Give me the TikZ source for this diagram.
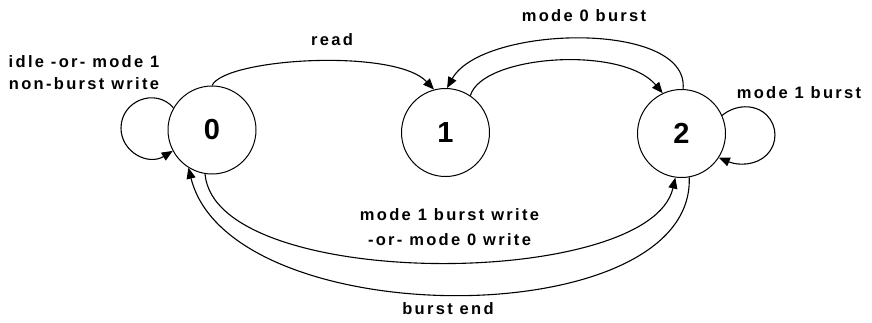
\documentclass[tikz,border=0pt]{standalone}
\usepackage{fontspec}
\newfontfamily\lblfont[LetterSpace=14]{Liberation Sans}
\newfontfamily\statefont{Liberation Sans}
\usetikzlibrary{arrows.meta}
\begin{document}
\begin{tikzpicture}[x=1pt,y=-1pt,
  state/.style={circle,draw,line width=1pt,minimum size=88pt,inner sep=0pt,
    font={\statefont\bfseries\fontsize{29pt}{30pt}\selectfont}},
  lbl/.style={inner sep=0pt,align=center,
    font={\lblfont\bfseries\fontsize{16.5pt}{22pt}\selectfont}},
  edge/.style={line width=1.1pt,-{Triangle[length=11pt,width=9pt]}}]
\useasboundingbox (0,0) rectangle (872,322);
\node[state] (n0) at (212,130) {0};
\node[state] (n1) at (445.5,132.5) {1};
\node[state] (n2) at (681.5,133.5) {2};
% transitions
\draw[edge] (n0.90) .. controls (225,58) and (395,48) .. (n1.105);
\draw[edge] (n1.56) .. controls (482,55) and (622,45) .. (n2.115);
\draw[edge] (n2.88) .. controls (690,20) and (482,25) .. (n1.88);
\draw[edge] (n0.-99) .. controls (215,292) and (650,290) .. (n2.-98);
\draw[edge] (n2.-80) .. controls (695,335) and (230,335) .. (n0.-122);
\draw[edge] (n0.150) .. controls (155,87) and (121,101) .. (121,128)
  .. controls (121,152) and (148,166) .. (n0.208);
\draw[edge] (n2.24) .. controls (735,104.6) and (754.9,103.3) .. (766.8,115.2)
  .. controls (777.7,126.1) and (777.7,143.9) .. (766.8,154.8)
  .. controls (755.9,165.7) and (738.1,165.7) .. (n2.-33);
% labels
\node[lbl] (lread) at (332,40) {read};
\node[lbl] (lidle) at (84,73) {idle -or- mode 1\\non-burst write};
\node[lbl] (lm0) at (584,16) {mode 0 burst};
\node[lbl] (lm1) at (799,93) {mode 1 burst};
\node[lbl] (lw) at (449.5,227.5) {mode 1 burst write\\[3pt]-or- mode 0 write};
\node[lbl] (lend) at (448,309) {burst end};
\end{tikzpicture}
\end{document}
